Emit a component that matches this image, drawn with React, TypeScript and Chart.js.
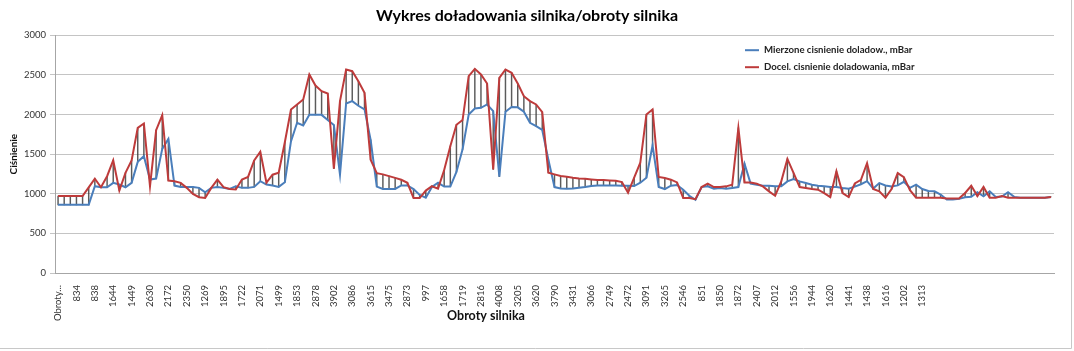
import React, { useEffect, useRef } from 'react';
import { Chart, registerables } from 'chart.js';

Chart.register(...registerables);

const FONT = 'Lato, "Open Sans", "DejaVu Sans", sans-serif';
const TITLE = 'Wykres doładowania silnika/obroty silnika';
const X_TITLE = 'Obroty silnika';
const Y_TITLE = 'Ciśnienie';
const SERIES_NAMES = ['Mierzone cisnienie doladow., mBar', 'Docel. cisnienie doladowania, mBar'];
const BLUE = '#4a7ebb';
const RED = '#be3b3b';

// Visible category labels (Excel shows every 3rd category)
const tickLabels = [
  'Obroty...', '834', '838', '1644', '1449', '2630', '2172', '2350', '1269', '1895',
  '1722', '2071', '1499', '1853', '2878', '3902', '3086', '3615', '3475', '2873',
  '997', '1658', '1719', '2816', '4008', '3205', '3620', '3790', '3431', '3066',
  '2749', '2472', '3091', '3265', '2546', '851', '1850', '1872', '2407', '2012',
  '1556', '1944', '1620', '1441', '1438', '1616', '1202', '1313',
];

// Docel. cisnienie doladowania, mBar
const targetBoost = [
  970, 970, 970, 970, 970, 1080, 1190, 1082, 1221, 1423,
  1040, 1263, 1419, 1831, 1886, 1095, 1802, 1991, 1166, 1158,
  1137, 1074, 998, 956, 947, 1074, 1179, 1082, 1061, 1053,
  1179, 1212, 1420, 1530, 1140, 1240, 1265, 1650, 2063, 2126,
  2189, 2504, 2365, 2294, 2264, 1315, 2168, 2567, 2546, 2420,
  2273, 1430, 1260, 1244, 1222, 1200, 1176, 1138, 946, 946,
  1040, 1095, 1065, 1300, 1600, 1870, 1930, 2483, 2575, 2504,
  2390, 1306, 2462, 2567, 2525, 2390, 2231, 2168, 2126, 2029,
  1265, 1244, 1223, 1214, 1202, 1193, 1189, 1181, 1172, 1172,
  1168, 1164, 1147, 1013, 1202, 1391, 2000, 2063, 1211, 1198,
  1177, 1143, 945, 945, 932, 1084, 1127, 1084, 1084, 1093,
  1114, 1831, 1143, 1143, 1127, 1093, 1030, 975, 1156, 1439,
  1262, 1084, 1072, 1059, 1051, 1008, 958, 1283, 1008, 958,
  1130, 1175, 1385, 1060, 1030, 950, 1060, 1260, 1210, 1045,
  950, 950, 950, 950, 950, 940, 940, 940, 1010, 1100,
  970, 1085, 950, 950, 970, 950, 950, 950, 950, 950,
  950, 950, 960,
];

// Mierzone cisnienie doladow., mBar
const measuredBoost = [
  860, 860, 860, 860, 860, 860, 1095, 1082, 1082, 1137,
  1116, 1082, 1137, 1402, 1474, 1179, 1191, 1566, 1692, 1103,
  1086, 1086, 1086, 1074, 1019, 1074, 1086, 1074, 1061, 1095,
  1074, 1074, 1086, 1158, 1116, 1103, 1086, 1145, 1660, 1895,
  1861, 1995, 1995, 1995, 1930, 1867, 1242, 2139, 2168, 2110,
  2065, 1680, 1090, 1060, 1060, 1060, 1105, 1105, 1058, 985,
  950, 1085, 1138, 1090, 1090, 1275, 1560, 2000, 2075, 2084,
  2126, 2042, 1215, 2035, 2095, 2090, 2035, 1895, 1853, 1805,
  1430, 1084, 1067, 1063, 1067, 1076, 1084, 1097, 1105, 1105,
  1105, 1105, 1100, 1100, 1097, 1139, 1202, 1610, 1084, 1059,
  1101, 1110, 1051, 975, 924, 1084, 1093, 1063, 1072, 1063,
  1072, 1084, 1380, 1127, 1114, 1101, 1101, 1093, 1093, 1156,
  1186, 1156, 1135, 1114, 1101, 1093, 1084, 1084, 1072, 1063,
  1090, 1120, 1158, 1065, 1135, 1105, 1090, 1105, 1150, 1075,
  1115, 1060, 1035, 1030, 990, 926, 926, 935, 955, 962,
  1020, 968, 1030, 958, 965, 1019, 960, 950, 950, 950,
  950, 950, 960,
];

const yTicks = { min: 0, max: 3000, step: 500 };

const categories = measuredBoost.map((_, i) =>
  i % 3 === 0 && i / 3 < tickLabels.length ? tickLabels[i / 3] : ''
);
const hiLo = measuredBoost.map((b, i) => [Math.min(b, targetBoost[i]), Math.max(b, targetBoost[i])]);

const decor = {
  id: 'decor',
  afterDraw(chart: any) {
    const { ctx, chartArea } = chart;
    ctx.save();
    // legend inside plot area
    const lx = chartArea.left + 690;
    const items = [
      { text: SERIES_NAMES[0], color: BLUE, y: chartArea.top + 15 },
      { text: SERIES_NAMES[1], color: RED, y: chartArea.top + 32 },
    ];
    ctx.font = `bold 9.6px ${FONT}`;
    ctx.textBaseline = 'middle';
    ctx.textAlign = 'left';
    items.forEach((it) => {
      ctx.strokeStyle = it.color;
      ctx.lineWidth = 2;
      ctx.beginPath();
      ctx.moveTo(lx, it.y);
      ctx.lineTo(lx + 14, it.y);
      ctx.stroke();
      ctx.fillStyle = '#222';
      ctx.fillText(it.text, lx + 19, it.y);
    });
    // x axis title
    ctx.font = `bold 12.5px ${FONT}`;
    ctx.textAlign = 'center';
    ctx.fillStyle = '#111';
    ctx.fillText(X_TITLE, 486, 316);
    // chart area border (right, bottom)
    ctx.strokeStyle = '#c8c8c8';
    ctx.lineWidth = 1;
    ctx.beginPath();
    ctx.moveTo(1071.5, 0);
    ctx.lineTo(1071.5, 348.5);
    ctx.lineTo(0, 348.5);
    ctx.stroke();
    ctx.restore();
  },
};

export default function App() {
  const ref = useRef<HTMLCanvasElement>(null);
  useEffect(() => {
    document.body.style.margin = '0';
    const canvas = ref.current;
    if (!canvas) return;
    const chart = new Chart(canvas, {
      type: 'line',
      data: {
        labels: categories,
        datasets: [
          {
            type: 'line',
            label: SERIES_NAMES[1],
            data: targetBoost,
            borderColor: RED,
            backgroundColor: RED,
            borderWidth: 2,
            pointRadius: 0,
            tension: 0,
            order: 0,
          },
          {
            type: 'line',
            label: SERIES_NAMES[0],
            data: measuredBoost,
            borderColor: BLUE,
            backgroundColor: BLUE,
            borderWidth: 2,
            pointRadius: 0,
            tension: 0,
            order: 1,
          },
          {
            type: 'bar',
            label: 'high-low',
            data: hiLo as any,
            backgroundColor: 'rgba(50,50,50,0.8)',
            barThickness: 0.8,
            order: 2,
          },
        ],
      } as any,
      options: {
        responsive: false,
        animation: false,
        events: [],
        layout: { padding: { top: 0, left: 0, bottom: 0, right: 20 } },
        plugins: {
          legend: { display: false },
          tooltip: { enabled: false },
          title: {
            display: true,
            text: TITLE,
            color: '#000',
            font: { family: FONT, size: 16, weight: 'bold' },
            padding: { top: 6, bottom: 10 },
          },
        },
        scales: {
          x: {
            type: 'category',
            offset: true,
            grid: { display: false },
            border: { display: true, color: '#a6a6a6' },
            ticks: {
              autoSkip: false,
              minRotation: 90,
              maxRotation: 90,
              padding: 4,
              color: '#333',
              font: { family: FONT, size: 9.5 },
            },
            afterFit: (s: any) => {
              s.height = 78;
            },
          },
          y: {
            min: yTicks.min,
            max: yTicks.max,
            ticks: {
              stepSize: yTicks.step,
              padding: 4,
              color: '#333',
              font: { family: FONT, size: 9.5 },
              callback: (v: any) => String(v),
            },
            grid: { color: '#c4c4c4', tickLength: 5 },
            border: { color: '#a6a6a6' },
            title: {
              display: true,
              text: Y_TITLE,
              color: '#111',
              font: { family: FONT, size: 10, weight: 'bold' },
              padding: { top: 8, bottom: 0 },
            },
            afterFit: (s: any) => {
              s.width = 55;
            },
          },
        },
      } as any,
      plugins: [decor],
    });
    return () => chart.destroy();
  }, []);
  return (
    <div style={{ width: 1074, height: 351, background: '#fff', position: 'relative' }}>
      <canvas ref={ref} width={1074} height={351} style={{ display: 'block' }} />
    </div>
  );
}
